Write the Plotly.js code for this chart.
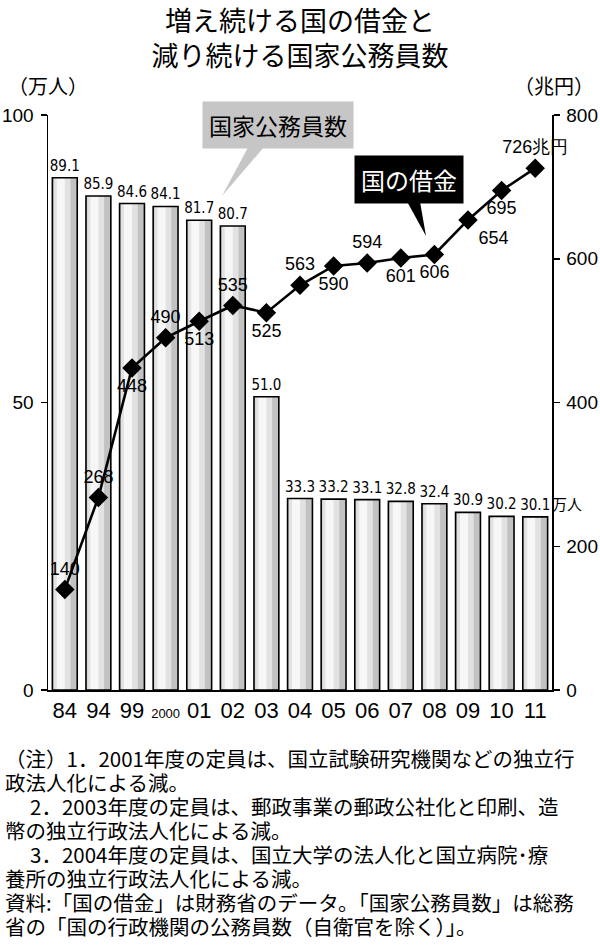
<!DOCTYPE html>
<html>
<head>
<meta charset="utf-8">
<script src="https://cdn.plot.ly/plotly-3.0.1.min.js"></script>
<style>
  body { margin: 0; background: #fff; }
  #myDiv { width: 600px; height: 948px; }
</style>
</head>
<body>
<div id="myDiv"></div>
<script>
var years = ['84', '94', '99', '2000', '01', '02', '03', '04', '05', '06', '07', '08', '09', '10', '11'];
var yearLabels = ['84', '94', '99', '<span style="font-size:13px">2000</span>', '01', '02', '03', '04', '05', '06', '07', '08', '09', '10', '11'];
var staff = [89.1, 85.9, 84.6, 84.1, 81.7, 80.7, 51.0, 33.3, 33.2, 33.1, 32.8, 32.4, 30.9, 30.2, 30.1];
var debt = [140, 268, 448, 490, 513, 535, 525, 563, 590, 594, 601, 606, 654, 695, 726];
var debtPos = ['top center', 'top center', 'bottom center', 'top center', 'bottom center', 'top center',
  'bottom center', 'top center', 'bottom center', 'top center', 'bottom center', 'bottom center',
  'bottom right', 'bottom center', 'top center'];

var notes = [
  '（注）1．2001年度の定員は、国立試験研究機関などの独立行',
  '政法人化による減。',
  '　 2．2003年度の定員は、郵政事業の郵政公社化と印刷、造',
  '幣の独立行政法人化による減。',
  '　 3．2004年度の定員は、国立大学の法人化と国立病院･療',
  '養所の独立行政法人化による減。',
  '資料:「国の借金」は財務省のデータ。「国家公務員数」は総務',
  '省の「国の行政機関の公務員数（自衛官を除く）」。'
];

var W = 600, H = 948;
var M = {l: 48, r: 48, t: 115, b: 258};
var pw = W - M.l - M.r, ph = H - M.t - M.b;
// pixel -> paper (for the callout decorations only)
function px(x) { return (x - M.l) / pw; }
function py(y) { return (H - M.b - y) / ph; }

var narrow = '"DejaVu Sans Condensed", "Liberation Sans Narrow", "Arial Narrow", "Liberation Sans", Arial, sans-serif';
var plain = '"Liberation Sans", Arial, sans-serif';
var jp = '"Noto Sans CJK JP", sans-serif';

var staffText = staff.map(function (v) { return v.toFixed(1); });
var debtText = debt.map(function (v, i) { return i === debt.length - 1 ? v + '兆円' : String(v); });

// bars: grey fill, lighter highlight strips, then outline + labels on top
var barBase = {
  x: years, y: staff, type: 'bar', width: 0.74,
  marker: {color: '#c2c2c2', line: {width: 0}},
  hoverinfo: 'skip', showlegend: false
};
var barHi = {
  x: years, y: staff, type: 'bar', width: 0.5, offset: -0.33,
  marker: {color: '#e2e2e2', line: {width: 0}},
  hoverinfo: 'skip', showlegend: false
};
var barHi2 = {
  x: years, y: staff, type: 'bar', width: 0.24, offset: -0.24,
  marker: {color: '#f7f7f7', line: {width: 0}},
  hoverinfo: 'skip', showlegend: false
};
var barEdge = {
  x: years, y: staff, type: 'bar', width: 0.74, name: '国家公務員数',
  marker: {color: 'rgba(0,0,0,0)', line: {color: '#000', width: 1.6}},
  text: staffText, textposition: 'outside', constraintext: 'none', cliponaxis: false,
  textfont: {family: narrow, size: 15, color: '#000'},
  showlegend: false
};
var line = {
  x: years, y: debt, yaxis: 'y2', type: 'scatter', mode: 'lines+markers+text', name: '国の借金',
  line: {color: '#000', width: 2.6},
  marker: {symbol: 'diamond', size: 15, color: '#000'},
  text: debtText, textposition: debtPos, cliponaxis: false,
  textfont: {family: plain, size: 18, color: '#000'},
  showlegend: false
};

var data = [barBase, barHi, barHi2, barEdge, line];

var annotations = [
  {text: '（万人）', xref: 'paper', yref: 'paper', x: px(6), y: py(86), xanchor: 'left', yanchor: 'middle',
    showarrow: false, font: {family: jp, size: 20, color: '#000'}},
  {text: '（兆円）', xref: 'paper', yref: 'paper', x: px(596), y: py(86), xanchor: 'right', yanchor: 'middle',
    showarrow: false, font: {family: jp, size: 20, color: '#000'}},
  {text: '万人', xref: 'x', yref: 'y', x: staff.length - 1 + 0.44, y: staff[staff.length - 1], xanchor: 'left', yanchor: 'bottom',
    yshift: 1, showarrow: false, font: {family: jp, size: 15, color: '#000'}},
  {text: '国家公務員数', xref: 'paper', yref: 'paper', x: px(278), y: py(125), xanchor: 'center', yanchor: 'middle',
    showarrow: false, bgcolor: '#c6c6c6', borderpad: 6, font: {family: jp, size: 23, color: '#000'}},
  {text: '国の借金', xref: 'paper', yref: 'paper', x: px(409), y: py(179), xanchor: 'center', yanchor: 'middle',
    showarrow: false, bgcolor: '#000', borderpad: 6, font: {family: jp, size: 24, color: '#fff'}}
];

// footnote lines, set tight like the printed original
notes.forEach(function (t, i) {
  annotations.push({
    text: t, xref: 'paper', yref: 'paper', x: px(3), y: py(758 + i * 24),
    xanchor: 'left', yanchor: 'middle', showarrow: false,
    font: {family: jp, size: 20.5, color: '#000'}
  });
});

var shapes = [
  {type: 'path', xref: 'paper', yref: 'paper', fillcolor: '#c6c6c6', line: {width: 0},
    path: 'M' + px(252) + ',' + py(140) + ' L' + px(270) + ',' + py(140) + ' L' + px(222) + ',' + py(196) + ' Z'},
  {type: 'path', xref: 'paper', yref: 'paper', fillcolor: '#000', line: {width: 0},
    path: 'M' + px(404) + ',' + py(196) + ' L' + px(419) + ',' + py(196) + ' L' + px(426) + ',' + py(236) + ' Z'}
];

var layout = {
  width: W, height: H,
  margin: M,
  paper_bgcolor: '#fff', plot_bgcolor: '#fff',
  barmode: 'overlay',
  title: {
    text: '増え続ける国の借金と<br>減り続ける国家公務員数',
    font: {family: jp, size: 27, color: '#000'},
    x: 0.5, xanchor: 'center', y: 1 - 31 / H, yanchor: 'top', yref: 'container'
  },
  xaxis: {
    type: 'category', range: [-0.5, 14.5], tickvals: years, ticktext: yearLabels,
    showline: true, linecolor: '#000', linewidth: 1.5, ticks: '', showgrid: false, zeroline: false,
    tickfont: {family: plain, size: 22, color: '#000'}, fixedrange: true
  },
  yaxis: {
    range: [0, 100], tickvals: [0, 50, 100], showline: true, linecolor: '#000', linewidth: 1.5,
    ticks: 'outside', ticklen: 6, tickwidth: 1.5, tickcolor: '#000', showgrid: false, zeroline: false,
    tickfont: {family: plain, size: 19, color: '#000'}, ticklabelstandoff: 3
  },
  yaxis2: {
    range: [0, 800], tickvals: [0, 200, 400, 600, 800], overlaying: 'y', side: 'right',
    showline: true, linecolor: '#000', linewidth: 1.5,
    ticks: 'outside', ticklen: 6, tickwidth: 1.5, tickcolor: '#000', showgrid: false, zeroline: false,
    tickfont: {family: plain, size: 19, color: '#000'}, ticklabelstandoff: 3
  },
  annotations: annotations,
  shapes: shapes
};

Plotly.newPlot('myDiv', data, layout, {displayModeBar: false, staticPlot: true});
</script>
</body>
</html>
